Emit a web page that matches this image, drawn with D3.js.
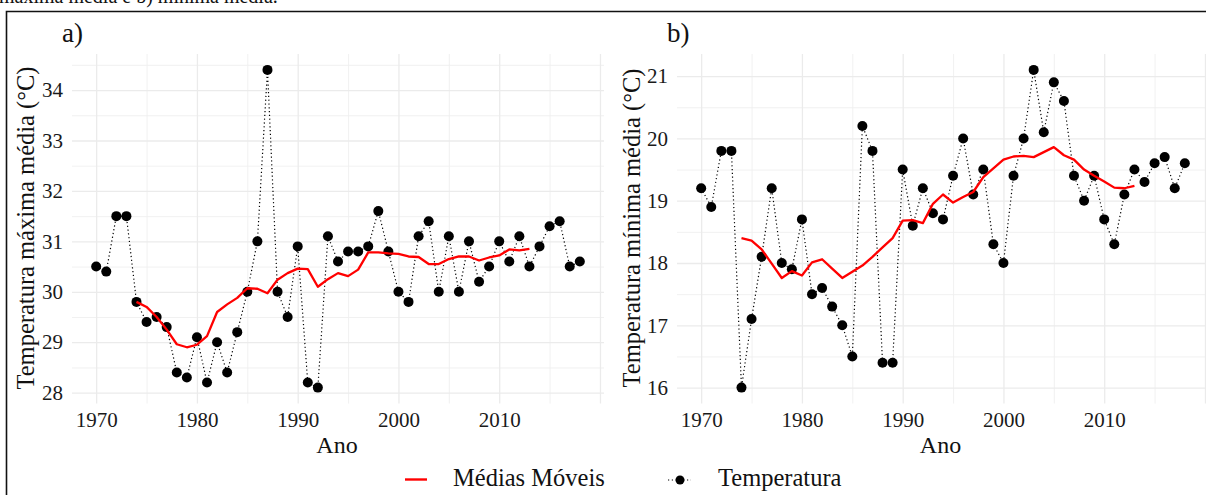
<!DOCTYPE html>
<html>
<head>
<meta charset="utf-8">
<script src="https://cdn.jsdelivr.net/npm/d3@7"></script>
<style>
  body { margin: 0; background: #fff; }
  text { font-family: "Liberation Serif", "DejaVu Serif", serif !important; fill: #111; }
  .grid line { stroke: #ebebeb; }
  .grid .domain { display: none; }
  .ticks .domain { display: none; }
  .ticks text { fill: #1a1a1a; font-size: 21px; }
</style>
</head>
<body>
<svg width="1206" height="495"></svg>
<script>
// years of observation
var years = [1970,1971,1972,1973,1974,1975,1976,1977,1978,1979,
	1980,1981,1982,1983,1984,1985,1986,1987,1988,1989,
	1990,1991,1992,1993,1994,1995,1996,1997,1998,1999,
	2000,2001,2002,2003,2004,2005,2006,2007,2008,2009,
	2010,2011,2012,2013,2014,2015,2016,2017,2018];

// years covered by the moving average
var mmYears = [1974,1975,1976,1977,1978,1979,
	1980,1981,1982,1983,1984,1985,1986,1987,1988,1989,
	1990,1991,1992,1993,1994,1995,1996,1997,1998,1999,
	2000,2001,2002,2003,2004,2005,2006,2007,2008,2009,
	2010,2011,2012,2013];

// a) temperatura maxima media
var tmax = [30.5,30.4,31.5,31.5,29.8,29.4,29.5,29.3,28.4,28.3,
	29.1,28.2,29.0,28.4,29.2,30.0,31.0,34.4,30.0,29.5,
	30.9,28.2,28.1,31.1,30.6,30.8,30.8,30.9,31.6,30.8,
	30.0,29.8,31.1,31.4,30.0,31.1,30.0,31.0,30.2,30.5,
	31.0,30.6,31.1,30.5,30.9,31.3,31.4,30.5,30.6];
var tmaxMM = [29.8,29.7,29.5,29.25,28.96,28.9,
	28.95,29.12,29.6,29.75,29.88,30.07,30.06,29.97,30.24,30.37,
	30.46,30.45,30.1,30.25,30.37,30.31,30.44,30.78,30.78,30.76,
	30.75,30.7,30.69,30.55,30.55,30.65,30.7,30.7,30.62,30.68,
	30.72,30.84,30.82,30.85];

// b) temperatura minima media
var tmin = [19.2,18.9,19.8,19.8,16.0,17.1,18.1,19.2,18.0,17.9,
	18.7,17.5,17.6,17.3,17.0,16.5,20.2,19.8,16.4,16.4,
	19.5,18.6,19.2,18.8,18.7,19.4,20.0,19.1,19.5,18.3,
	18.0,19.4,20.0,21.1,20.1,20.9,20.6,19.4,19.0,19.4,
	18.7,18.3,19.1,19.5,19.3,19.6,19.7,19.2,19.6];
var tminMM = [18.4,18.36,18.22,17.99,17.76,17.87,
	17.8,18.01,18.06,17.91,17.76,17.86,17.96,18.1,18.25,18.4,
	18.68,18.69,18.64,18.95,19.1,18.97,19.06,19.14,19.38,19.52,
	19.66,19.71,19.72,19.7,19.78,19.86,19.73,19.66,19.5,19.4,
	19.31,19.21,19.2,19.24];

var xLabels = [1970,1980,1990,2000,2010];
var xMajor = [1970,1980,1990,2000,2010,2020];
var xMinor = [1975,1985,1995,2005,2015];

var svg = d3.select("svg");

// cut-off caption line and outer frame from the document
svg.append("text")
	.attr("x", -1).attr("y", 3)
	.style("font-size", "20px")
	.text("máxima média e b) mínima média.");

svg.append("path")
	.attr("d", "M6.5,496 V11.5 H1210")
	.attr("fill", "none")
	.attr("stroke", "#111")
	.attr("stroke-width", 1.6);

function drawPanel(opt) {
	var x = d3.scaleLinear().domain([1967.6, 2020.4]).range([opt.left, opt.right]);
	var y = d3.scaleLinear().domain(opt.yDomain).range([403.5, 54]);
	var g = svg.append("g");

	// minor grid
	g.append("g").attr("class", "grid")
		.attr("transform", "translate(0,403.5)")
		.call(d3.axisBottom(x).tickValues(xMinor).tickSize(-349.5).tickFormat(""))
		.selectAll("line").attr("stroke-width", 0.9).style("stroke", "#efefef");
	g.append("g").attr("class", "grid")
		.attr("transform", "translate(" + opt.left + ",0)")
		.call(d3.axisLeft(y).tickValues(opt.yMinor).tickSize(-(opt.right - opt.left)).tickFormat(""))
		.selectAll("line").attr("stroke-width", 0.9).style("stroke", "#efefef");
	// major grid
	g.append("g").attr("class", "grid")
		.attr("transform", "translate(0,403.5)")
		.call(d3.axisBottom(x).tickValues(xMajor).tickSize(-349.5).tickFormat(""))
		.selectAll("line").attr("stroke-width", 1.3);
	g.append("g").attr("class", "grid")
		.attr("transform", "translate(" + opt.left + ",0)")
		.call(d3.axisLeft(y).tickValues(opt.yTicks).tickSize(-(opt.right - opt.left)).tickFormat(""))
		.selectAll("line").attr("stroke-width", 1.3);

	// tick labels
	g.append("g").attr("class", "ticks")
		.attr("transform", "translate(" + opt.left + ",0)")
		.call(d3.axisLeft(y).tickValues(opt.yTicks).tickSize(0).tickPadding(9).tickFormat(d3.format("d")));
	g.append("g").attr("class", "ticks")
		.attr("transform", "translate(0,403.5)")
		.call(d3.axisBottom(x).tickValues(xLabels).tickSize(0).tickPadding(9).tickFormat(d3.format("d")));

	// titles
	g.append("text")
		.attr("x", (opt.left + Math.min(opt.right, 1206)) / 2 - 1)
		.attr("y", 453)
		.attr("text-anchor", "middle")
		.style("font-size", "24px")
		.text("Ano");
	g.append("text")
		.attr("transform", "translate(" + opt.titleX + ",228) rotate(-90)")
		.attr("text-anchor", "middle")
		.style("font-size", "24.5px")
		.text(opt.yTitle);
	g.append("text")
		.attr("x", opt.left - 10)
		.attr("y", 42)
		.style("font-size", "27px")
		.text(opt.tag);

	// temperature: dotted line with points
	var line = d3.line()
		.x(function(d, i) { return x(years[i]); })
		.y(function(d) { return y(d); });
	g.append("path")
		.datum(opt.values)
		.attr("d", line)
		.attr("fill", "none")
		.attr("stroke", "#000")
		.attr("stroke-width", 1.2)
		.attr("stroke-dasharray", "1.2,2.6");
	g.append("g").selectAll("circle")
		.data(opt.values)
		.enter().append("circle")
			.attr("cx", function(d, i) { return x(years[i]); })
			.attr("cy", function(d) { return y(d); })
			.attr("r", 5)
			.attr("fill", "#000");

	// moving average
	var mmLine = d3.line()
		.x(function(d, i) { return x(mmYears[i]); })
		.y(function(d) { return y(d); });
	g.append("path")
		.datum(opt.mm)
		.attr("d", mmLine)
		.attr("fill", "none")
		.attr("stroke", "#ff0000")
		.attr("stroke-width", 2.3)
		.attr("stroke-linejoin", "round");
}

drawPanel({
	left: 72, right: 604,
	yDomain: [27.785, 34.715],
	yTicks: [28,29,30,31,32,33,34],
	yMinor: [28.5,29.5,30.5,31.5,32.5,33.5,34.5],
	values: tmax, mm: tmaxMM,
	titleX: 34,
	yTitle: "Temperatura máxima média (°C)",
	tag: "a)"
});

drawPanel({
	left: 677, right: 1209,
	yDomain: [15.745, 21.355],
	yTicks: [16,17,18,19,20,21],
	yMinor: [16.5,17.5,18.5,19.5,20.5],
	values: tmin, mm: tminMM,
	titleX: 640,
	yTitle: "Temperatura mínima média (°C)",
	tag: "b)"
});

// legend
var legend = svg.append("g");
legend.append("line")
	.attr("x1", 405).attr("x2", 427).attr("y1", 479.5).attr("y2", 479.5)
	.attr("stroke", "#ff0000").attr("stroke-width", 2.4);
legend.append("text")
	.attr("x", 453).attr("y", 486)
	.style("font-size", "24.5px")
	.text("Médias Móveis");
legend.append("line")
	.attr("x1", 668).attr("x2", 691).attr("y1", 480).attr("y2", 480)
	.attr("stroke", "#000").attr("stroke-width", 1.2).attr("stroke-dasharray", "1.2,2.6");
legend.append("circle")
	.attr("cx", 680).attr("cy", 480).attr("r", 4.5).attr("fill", "#000");
legend.append("text")
	.attr("x", 718).attr("y", 486)
	.style("font-size", "24.5px")
	.text("Temperatura");
</script>
</body>
</html>
